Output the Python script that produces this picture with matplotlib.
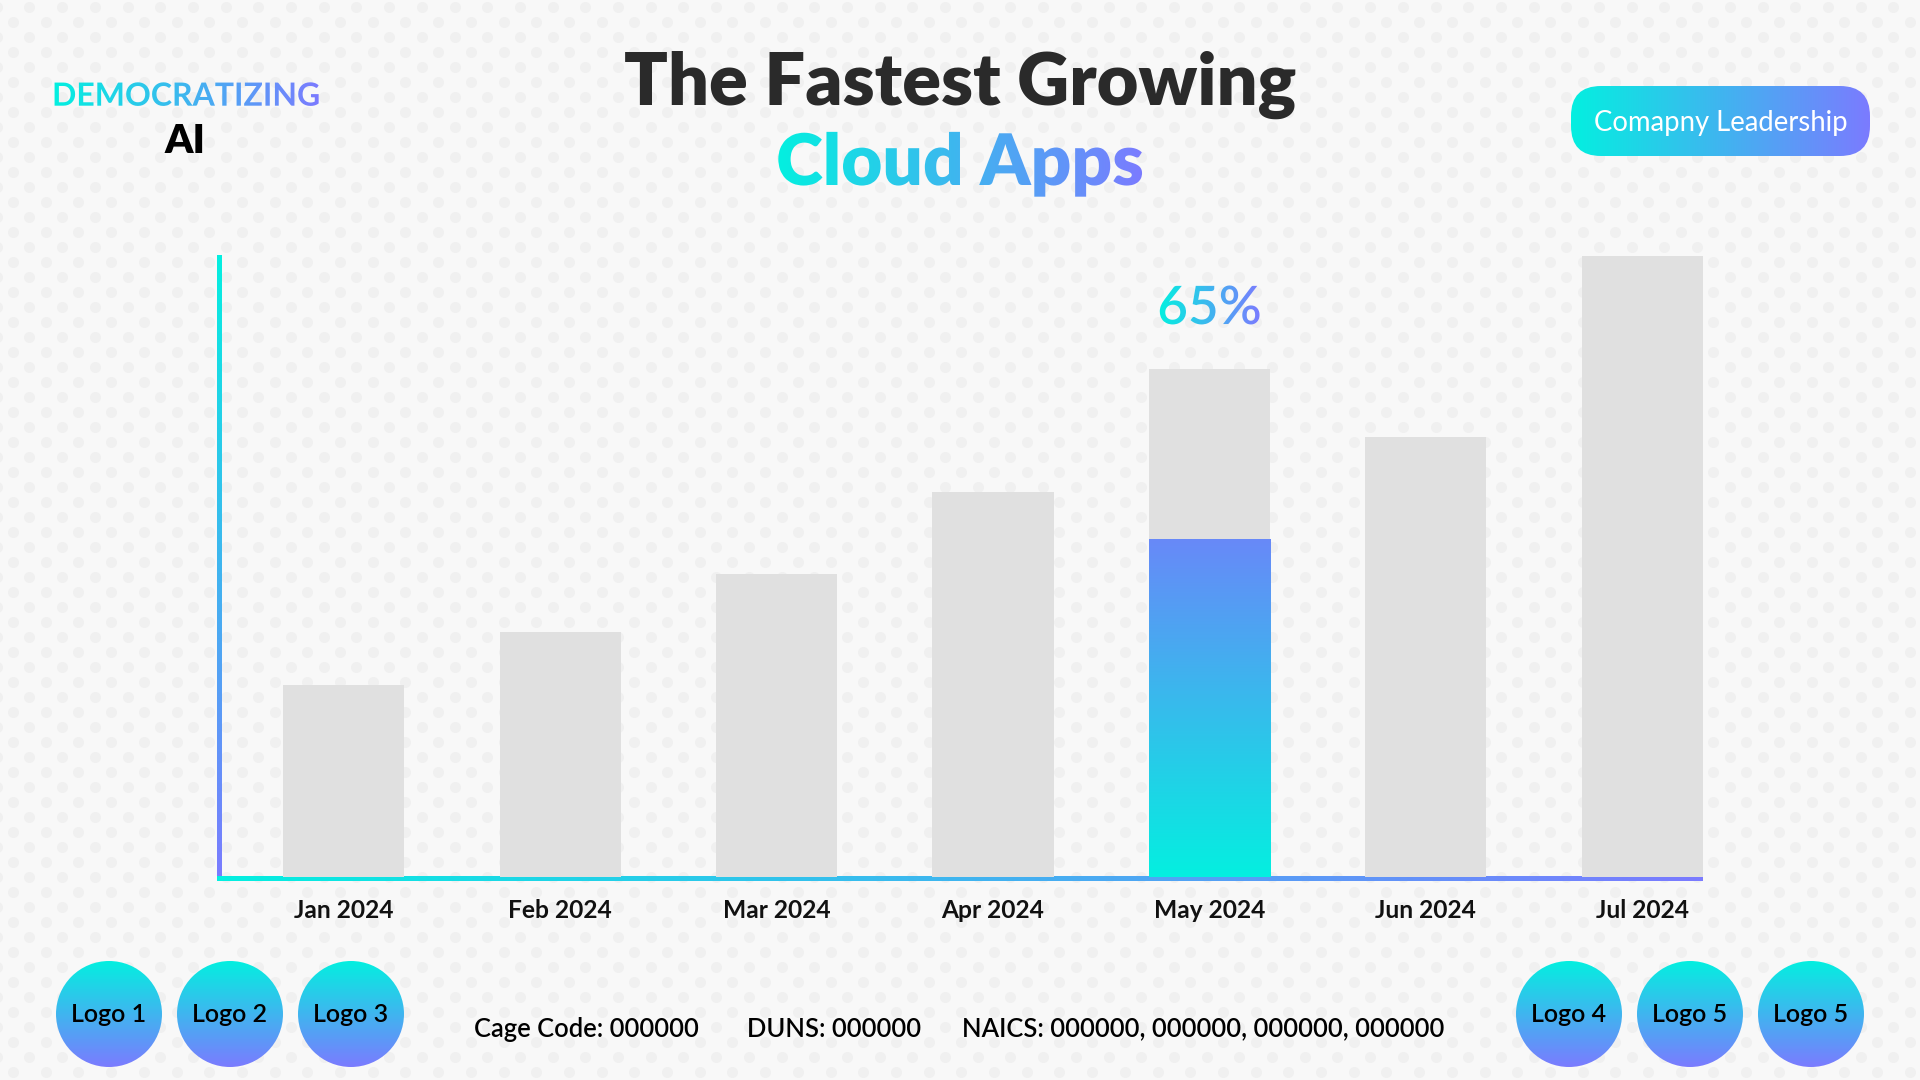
import numpy as np
import matplotlib
matplotlib.use("Agg")
import matplotlib.pyplot as plt
from matplotlib.colors import LinearSegmentedColormap
from matplotlib.patches import Circle, FancyBboxPatch
from matplotlib.patheffects import AbstractPathEffect
from matplotlib.transforms import TransformedPath

plt.rcParams['font.family'] = ['Lato', 'DejaVu Sans']

# data
months = ['Jan 2024', 'Feb 2024', 'Mar 2024', 'Apr 2024', 'May 2024', 'Jun 2024', 'Jul 2024']
values = [30.9, 39.5, 48.8, 62.0, 81.8, 70.8, 100.0]
highlight_month = 'May 2024'
highlight_value = 54.4
highlight_label = '65%'
left_logos = ['Logo 1', 'Logo 2', 'Logo 3']
right_logos = ['Logo 4', 'Logo 5', 'Logo 5']
footer = ['Cage Code: 000000', 'DUNS: 000000', 'NAICS: 000000, 000000, 000000, 000000']

# styles
BG = '#f8f8f8'
DOT = '#f0f0f0'
CYAN = '#04efe0'
PURPLE = '#7b7bff'
BAR = '#e0e0e0'
W, H = 1920, 1080
grad = LinearSegmentedColormap.from_list('grad', [CYAN, PURPLE])
bar_grad = LinearSegmentedColormap.from_list('bar_grad', [CYAN, '#6889f8'])


def pt(px):
    # pixel size -> points at dpi 100
    return px * 0.72


def Y(y):
    # top-based pixel row -> canvas coordinate
    return H - y


class GradientText(AbstractPathEffect):
    """Fill the text glyphs with a left-to-right gradient."""

    def __init__(self, cmap):
        super().__init__()
        self.cmap = cmap

    def draw_path(self, renderer, gc, tpath, affine, rgbFace=None):
        path = affine.transform_path(tpath)
        ext = path.get_extents()
        x0, y0 = np.floor(ext.x0), np.floor(ext.y0)
        w = int(np.ceil(ext.x1) - x0) + 1
        h = int(np.ceil(ext.y1) - y0) + 1
        rgba = (self.cmap(np.linspace(0, 1, w)) * 255).astype(np.uint8)
        img = np.ascontiguousarray(np.repeat(rgba[None, :, :], h, axis=0))
        gc0 = renderer.new_gc()
        gc0.copy_properties(gc)
        gc0.set_clip_path(TransformedPath(tpath, affine))
        renderer.draw_image(gc0, x0, y0, img)
        gc0.restore()


fig = plt.figure(figsize=(19.2, 10.8), dpi=100, facecolor=BG)

# background canvas in pixel coordinates
canvas = fig.add_axes([0, 0, 1, 1], zorder=0)
canvas.set_facecolor(BG)
canvas.axis('off')

# dotted background pattern
dx, dy = 32.7, 15.0
pts = []
for k, yy in enumerate(np.arange(6.7, H + dy, dy)):
    xs = np.arange(29.4 + (k % 2) * dx / 2 - dx, W + dx, dx)
    pts.append(np.column_stack([xs, np.full_like(xs, Y(yy))]))
pts = np.vstack(pts)
canvas.scatter(pts[:, 0], pts[:, 1], s=(11 * 0.72) ** 2, color=DOT, linewidths=0, zorder=0)

# chart area (pixels from top-left)
AX_L, AX_R, AX_T, AX_B = 219.5, 1702.7, 256, 877
ax = fig.add_axes([AX_L / W, (H - AX_B) / H, (AX_R - AX_L) / W, (AX_B - AX_T) / H], zorder=1)
ax.patch.set_alpha(0)
for s in ax.spines.values():
    s.set_visible(False)

x = np.arange(len(months))
bw = 0.56
ax.bar(x, values, width=bw, color=BAR, zorder=2)

hi = months.index(highlight_month)
hb = ax.bar(x[hi], highlight_value, width=bw, color='none', zorder=3)[0]
gimg = ax.imshow(np.linspace(0, 1, 256)[:, None], cmap=bar_grad, origin='lower', aspect='auto',
                 extent=(x[hi] - bw / 2, x[hi] + bw / 2, 0, highlight_value), zorder=3)
gimg.set_clip_path(hb)

ax.annotate(highlight_label, (x[hi], values[hi]), xytext=(0, pt(45)), textcoords='offset points',
            ha='center', va='baseline', fontsize=pt(53), fontweight='semibold',
            color='#3cbcec', path_effects=[GradientText(grad)], zorder=4)

ax.set_xlim(-0.575, len(months) - 1 + bw / 2)
ax.set_ylim(0, max(values))
ax.set_yticks([])
ax.set_xticks(x, months)
ax.tick_params(axis='x', length=0, pad=pt(22), labelsize=pt(24.5), labelcolor='#111111')
for lbl in ax.get_xticklabels():
    lbl.set_fontweight('bold')

# gradient axis lines
lw = 4.5
canvas.imshow(np.linspace(0, 1, 256)[:, None], cmap=grad.reversed(), origin='lower', aspect='auto',
              extent=(AX_L - lw / 2, AX_L + lw / 2, Y(AX_B + lw), Y(AX_T)), zorder=2)
canvas.imshow(np.linspace(0, 1, 256)[None, :], cmap=grad, origin='lower', aspect='auto',
              extent=(AX_L - lw / 2, AX_R, Y(AX_B + lw), Y(AX_B)), zorder=2)

# titles
canvas.text(960, Y(105), 'The Fastest Growing', ha='center', va='baseline',
            fontsize=pt(72), fontweight='heavy', color='#2a2a2a')
canvas.text(960, Y(185), 'Cloud Apps', ha='center', va='baseline', fontsize=pt(71),
            fontweight='heavy', color='#3cbcec', path_effects=[GradientText(grad)])

# brand block
canvas.text(186.5, Y(105.7), 'DEMOCRATIZING', ha='center', va='baseline', fontsize=pt(32),
            fontweight='bold', color='#3cbcec', path_effects=[GradientText(grad)])
canvas.text(185, Y(153), 'AI', ha='center', va='baseline', fontsize=pt(40),
            fontweight='heavy', color='black')

# button
btn = FancyBboxPatch((1571, Y(156)), 299, 70, boxstyle='round,pad=0,rounding_size=30',
                     facecolor='none', edgecolor='none', zorder=2)
canvas.add_patch(btn)
bimg = canvas.imshow(np.linspace(0, 1, 256)[None, :], cmap=grad, aspect='auto',
                     extent=(1571, 1870, Y(156), Y(86)), zorder=2)
bimg.set_clip_path(btn)
canvas.text(1720.5, Y(130.7), 'Comapny Leadership', ha='center', va='baseline',
            fontsize=pt(27.5), color='white', zorder=3)

# logo circles
logo_r = 53
logo_y = 1014
for names, cxs in [(left_logos, [109, 230, 351]), (right_logos, [1569, 1690, 1811])]:
    for name, cx in zip(names, cxs):
        c = Circle((cx, Y(logo_y)), logo_r, facecolor='none', edgecolor='none', zorder=2)
        canvas.add_patch(c)
        img = canvas.imshow(np.linspace(0, 1, 256)[:, None], cmap=grad.reversed(), origin='lower',
                            aspect='auto', extent=(cx - logo_r, cx + logo_r, Y(logo_y + logo_r), Y(logo_y - logo_r)),
                            zorder=2)
        img.set_clip_path(c)
        canvas.text(cx, Y(logo_y), name, ha='center', va='center', fontsize=pt(25),
                    fontweight='semibold', color='black', zorder=3)

# footer
for txt, fx in zip(footer, [474, 747, 962]):
    canvas.text(fx, Y(1036.7), txt, ha='left', va='baseline', fontsize=pt(25.5),
                fontweight='semibold', color='black')

canvas.set_xlim(0, W)
canvas.set_ylim(0, H)

fig.savefig('out.png', dpi=100, facecolor=BG)
